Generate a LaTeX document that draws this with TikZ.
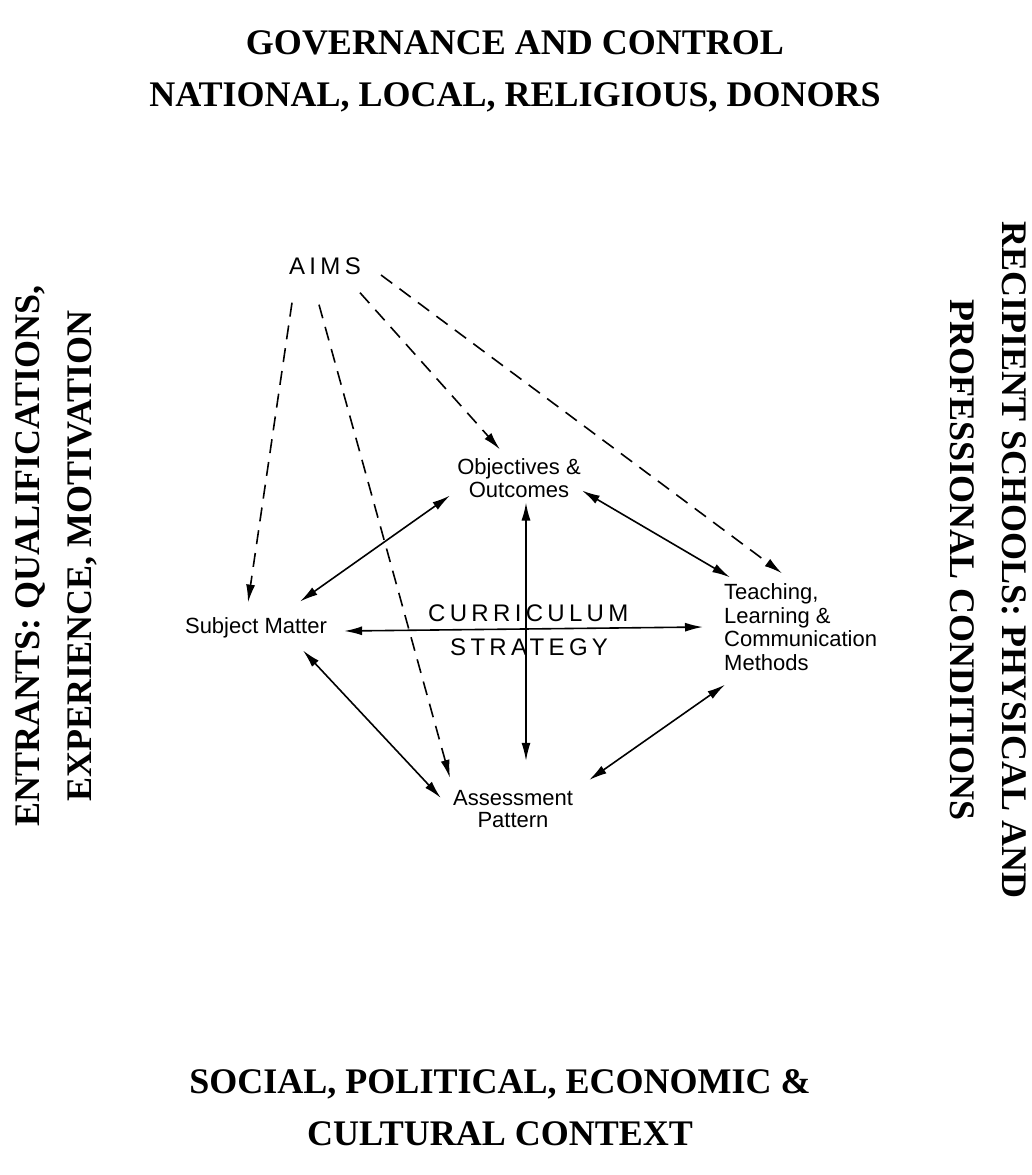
\documentclass[tikz,border=0pt]{standalone}
\usepackage{fontspec}
\setmainfont{Liberation Serif}
\setsansfont{Liberation Sans}
\newfontfamily\widesans[LetterSpace=18]{Liberation Sans}
\usetikzlibrary{arrows.meta}
\usetikzlibrary{calc}
\tikzset{
    heading/.style = {align=center, inner sep=0pt, font=\fontsize{36}{52}\selectfont\bfseries},
    item/.style = {align=center, inner sep=0pt, font=\sffamily\fontsize{22}{22.5}\selectfont},
    itemw/.style = {inner sep=0pt, font=\widesans\fontsize{24}{26}\selectfont},
    aimline/.style = {-{Latex[length=18pt,width=9pt]}, line width=1.6pt, dash pattern=on 14pt off 9pt},
    linkline/.style = {{Latex[length=18pt,width=9pt]}-{Latex[length=18pt,width=9pt]}, line width=1.6pt},
}

\begin{document}
\begin{tikzpicture}[x=1pt, y=-1pt]
  \useasboundingbox (0,0) rectangle (1031,1175);

  % frame texts
  \node[heading] (gov) at (515,71) {GOVERNANCE AND CONTROL\\NATIONAL, LOCAL, RELIGIOUS, DONORS};
  \node[heading] (ctx) at (500,1108) {SOCIAL, POLITICAL, ECONOMIC \&\\CULTURAL CONTEXT};
  \node[heading, rotate=90] (ent) at (56,556) {ENTRANTS: QUALIFICATIONS,\\EXPERIENCE, MOTIVATION};
  \node[heading, rotate=-90] (rec) at (988,560) {RECIPIENT SCHOOLS: PHYSICAL AND\\PROFESSIONAL CONDITIONS};

  % curriculum elements
  \node[itemw] (aims) at (325,266) {AIMS};
  \node[item] (obj) at (519,478) {Objectives \&\\Outcomes};
  \node[item] (subj) at (256,628) {Subject Matter};
  \node[item, align=left, anchor=west, font=\sffamily\fontsize{22}{23.6}\selectfont] (teach) at (724,627) {Teaching,\\Learning \&\\Communication\\Methods};
  \node[item] (assess) at (513,809) {Assessment\\Pattern};
  \node[itemw, anchor=west] (curr) at (428,613) {CURRICULUM};
  \node[itemw, anchor=west] (strat) at (450,647) {STRATEGY};

  % aims
  \draw[aimline] ($(aims.south)+(-33,28)$) -- ($(subj.north)+(-8,-15)$);
  \draw[aimline] ($(aims.south)+(-6,30)$) -- ($(assess.north)+(-63,-12)$);
  \draw[aimline] ($(aims.south)+(35,18)$) -- ($(obj.north)+(-19,-9)$);
  \draw[aimline] ($(aims.east)+(20,9)$) -- ($(teach.north west)+(58,-10)$);

  % links
  \draw[linkline] ($(obj.south)+(-69,-2)$) -- ($(subj.north)+(44,-16)$);
  \draw[linkline] ($(obj.south)+(63,-7)$) -- ($(teach.north west)+(6,-6)$);
  \draw[linkline] ($(obj.south)+(7,5)$) -- ($(assess.north)+(13,-29)$);
  \draw[linkline] ($(subj.east)+(17,3)$) -- ($(teach.west)+(-21,0)$);
  \draw[linkline] ($(subj.south)+(47,12)$) -- ($(assess.west)+(-12,-11)$);
  \draw[linkline] ($(teach.south west)+(1,14)$) -- ($(assess.east)+(16,-29)$);
\end{tikzpicture}
\end{document}
